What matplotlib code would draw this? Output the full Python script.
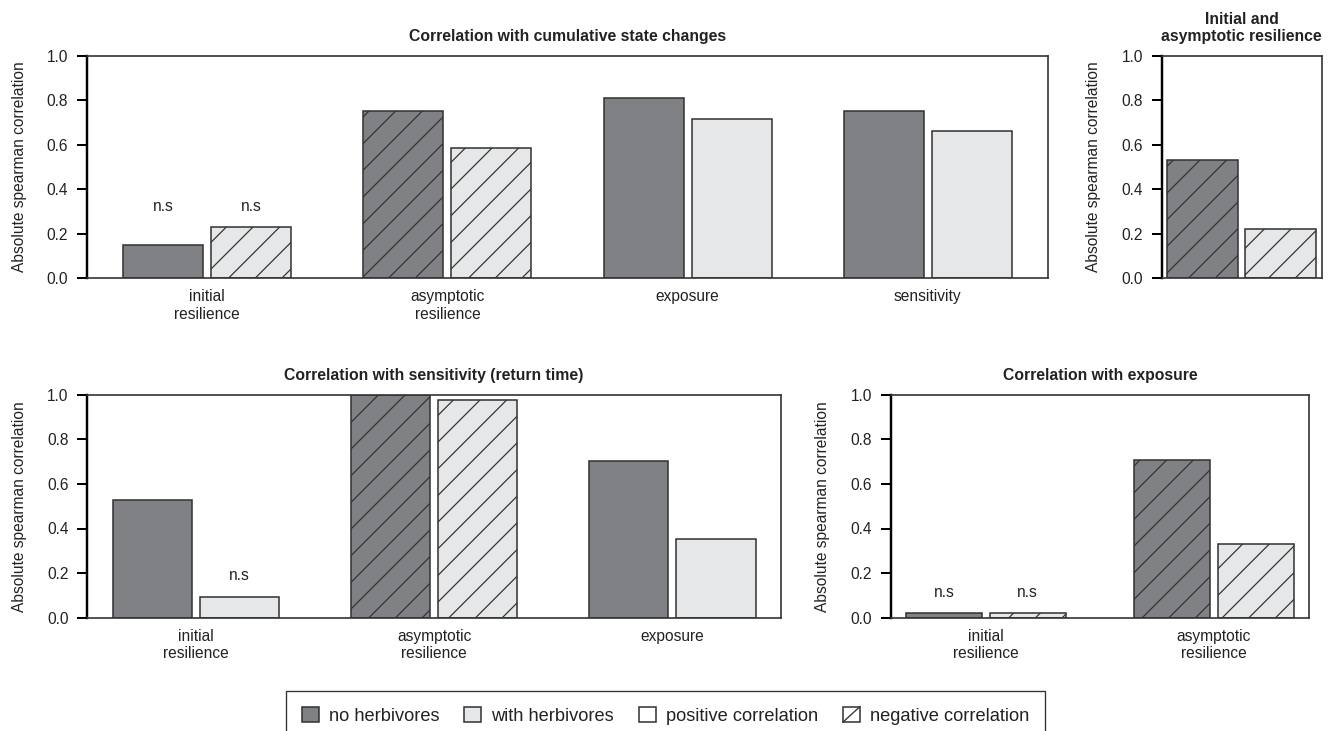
import matplotlib
matplotlib.use("Agg")
import matplotlib.pyplot as plt
from matplotlib.patches import Patch, Rectangle
from matplotlib.lines import Line2D

# bar values (absolute spearman correlation) per panel
cum_labels = ["initial\nresilience", "asymptotic\nresilience", "exposure", "sensitivity"]
cum_no_herb = [0.147, 0.751, 0.810, 0.751]
cum_with_herb = [0.229, 0.585, 0.715, 0.663]
cum_neg_no = [False, True, False, False]
cum_neg_with = [True, True, False, False]
cum_ns_no = [True, False, False, False]
cum_ns_with = [True, False, False, False]

res_labels = [""]
res_no_herb = [0.529]
res_with_herb = [0.222]
res_neg_no = [True]
res_neg_with = [True]

sens_labels = ["initial\nresilience", "asymptotic\nresilience", "exposure"]
sens_no_herb = [0.528, 1.000, 0.704]
sens_with_herb = [0.094, 0.978, 0.353]
sens_neg_no = [False, True, False]
sens_neg_with = [False, True, False]
sens_ns_no = [False, False, False]
sens_ns_with = [True, False, False]

exp_labels = ["initial\nresilience", "asymptotic\nresilience"]
exp_no_herb = [0.020, 0.706]
exp_with_herb = [0.020, 0.332]
exp_neg_no = [False, True]
exp_neg_with = [True, True]
exp_ns_no = [True, False]
exp_ns_with = [True, False]

DARK = "#808184"
LIGHT = "#e6e7e8"
EDGE = "#333333"
TEXT = "#222222"

W, H, DPI = 1334, 731, 160
plt.rcParams["font.family"] = ["Liberation Sans", "DejaVu Sans"]
plt.rcParams["font.size"] = 7
plt.rcParams["text.color"] = TEXT
plt.rcParams["axes.labelcolor"] = TEXT
plt.rcParams["xtick.color"] = TEXT
plt.rcParams["ytick.color"] = TEXT
plt.rcParams["hatch.linewidth"] = 0.55

fig = plt.figure(figsize=(W / DPI, H / DPI), dpi=DPI)


def px_rect(x0, y0, x1, y1):
    return [x0 / W, 1 - y1 / H, (x1 - x0) / W, (y1 - y0) / H]


def draw_panel(ax, labels, no_herb, with_herb, neg_no, neg_with, title,
               margin, ns_no=None, ns_with=None):
    n = len(no_herb)
    centers = [3 * i for i in range(n)]
    for i, c in enumerate(centers):
        ax.bar(c - 0.55, no_herb[i], width=1.0, color=DARK, edgecolor=EDGE,
               linewidth=0.7, hatch="//" if neg_no[i] else None, zorder=2)
        ax.bar(c + 0.55, with_herb[i], width=1.0, color=LIGHT, edgecolor=EDGE,
               linewidth=0.7, hatch="//" if neg_with[i] else None, zorder=2)
        if ns_no is not None and (ns_no[i] or ns_with[i]):
            # "n.s" sits a little above the tallest non-significant bar
            flagged = [v for v, f in ((no_herb[i], ns_no[i]), (with_herb[i], ns_with[i])) if f]
            top = max(flagged) + 0.093
            if ns_no[i]:
                ax.text(c - 0.55, top, "n.s", ha="center", va="center")
            if ns_with[i]:
                ax.text(c + 0.55, top, "n.s", ha="center", va="center")

    ax.set_xlim(-1.05 - margin, centers[-1] + 1.05 + margin)
    ax.set_ylim(0, 1)
    ax.set_yticks([0, 0.2, 0.4, 0.6, 0.8, 1.0])
    ax.set_xticks(centers)
    ax.set_xticklabels(labels)
    ax.tick_params(axis="x", length=0, pad=5)
    ax.tick_params(axis="y", length=4.5, width=0.9, color="black", pad=4)
    for side in ["top", "right", "bottom"]:
        ax.spines[side].set_color(EDGE)
        ax.spines[side].set_linewidth(0.75)
    ax.spines["left"].set_color("black")
    ax.spines["left"].set_linewidth(1.1)
    ax.set_ylabel("Absolute spearman correlation", labelpad=9)
    ax.set_title(title, fontweight="bold", fontsize=7.1, pad=6.5)


ax1 = fig.add_axes(px_rect(87, 55.7, 1048, 278))
draw_panel(ax1, cum_labels, cum_no_herb, cum_with_herb, cum_neg_no, cum_neg_with,
           "Correlation with cumulative state changes", 0.45, cum_ns_no, cum_ns_with)

ax2 = fig.add_axes(px_rect(1161.7, 55.7, 1321.7, 278))
draw_panel(ax2, res_labels, res_no_herb, res_with_herb, res_neg_no, res_neg_with,
           "Initial and\nasymptotic resilience", 0.08)

ax3 = fig.add_axes(px_rect(87.3, 394.7, 781, 617.7))
draw_panel(ax3, sens_labels, sens_no_herb, sens_with_herb, sens_neg_no, sens_neg_with,
           "Correlation with sensitivity (return time)", 0.32, sens_ns_no, sens_ns_with)

ax4 = fig.add_axes(px_rect(890.7, 394.7, 1309, 617.7))
draw_panel(ax4, exp_labels, exp_no_herb, exp_with_herb, exp_neg_no, exp_neg_with,
           "Correlation with exposure", 0.2, exp_ns_no, exp_ns_with)


class DiagonalSquare:
    """Legend key: white square crossed by one diagonal."""

    def legend_artist(self, legend, orig_handle, fontsize, handlebox):
        x0, y0 = -handlebox.xdescent, -handlebox.ydescent
        w, h = handlebox.width, handlebox.height
        tr = handlebox.get_transform()
        rect = Rectangle((x0, y0), w, h, facecolor="white", edgecolor=EDGE,
                         linewidth=0.7, transform=tr)
        line = Line2D([x0, x0 + w], [y0, y0 + h], color=EDGE, linewidth=0.6,
                      transform=tr)
        handlebox.add_artist(rect)
        handlebox.add_artist(line)
        return rect


neg_key = Patch(facecolor="white", edgecolor=EDGE, label="negative correlation")
handles = [
    Patch(facecolor=DARK, edgecolor=EDGE, linewidth=0.7, label="no herbivores"),
    Patch(facecolor=LIGHT, edgecolor=EDGE, linewidth=0.7, label="with herbivores"),
    Patch(facecolor="white", edgecolor=EDGE, linewidth=0.7, label="positive correlation"),
    neg_key,
]
leg = fig.legend(handles=handles, handler_map={neg_key: DiagonalSquare()},
                 loc="upper center", bbox_to_anchor=(665.5 / W, 1 - 691 / H),
                 borderaxespad=0, ncol=4, fancybox=False, edgecolor=EDGE,
                 framealpha=1, borderpad=0.86, handlelength=0.93,
                 handleheight=0.93, handletextpad=0.55, columnspacing=1.37,
                 fontsize=8.2)
leg.get_frame().set_linewidth(0.6)

fig.savefig("out.png", dpi=DPI)
